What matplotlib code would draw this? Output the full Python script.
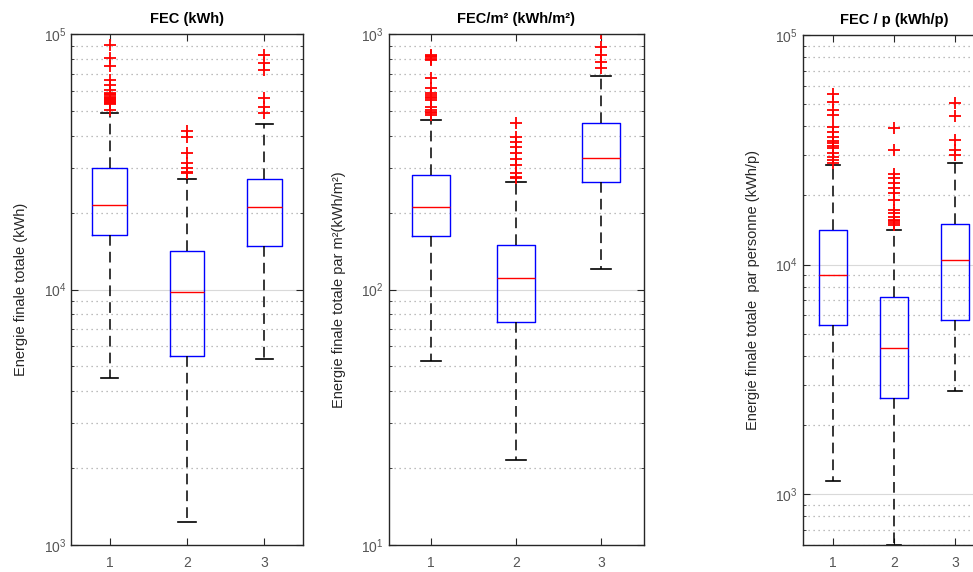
import numpy as np
import matplotlib.pyplot as plt
from matplotlib.ticker import LogLocator, NullFormatter

plt.rcParams['font.family'] = ['Liberation Sans', 'DejaVu Sans']

groups = [1, 2, 3]

titles = ["FEC (kWh)", "FEC/m² (kWh/m²)", "FEC / p (kWh/p)"]
ylabels = ["Energie finale totale (kWh)",
           "Energie finale totale par m²(kWh/m²)",
           "Energie finale totale  par personne (kWh/p)"]
ylims = [(1e3, 1e5), (1e1, 1e3), (600, 1e5)]

# FEC (kWh)
fec_q1 = [16300, 5490, 14800]
fec_med = [21400, 9800, 21000]
fec_q3 = [30000, 14200, 27000]
fec_lo = [4490, 1227, 5330]
fec_hi = [49200, 27000, 44400]
fec_out = [
    [90600, 80300, 75100, 66100, 63200, 60400, 59000, 58000, 57500, 56500,
     56000, 55500, 55000, 54500, 54000, 53500, 53000, 50400],
    [41700, 39500, 34100, 31200, 29900, 28900, 28500],
    [82800, 76800, 72300, 56000, 52000, 49000],
]

# FEC/m2 (kWh/m2)
m2_q1 = [162, 74.4, 264]
m2_med = [210, 111, 326]
m2_q3 = [281, 150, 447]
m2_lo = [52.6, 21.5, 120]
m2_hi = [461, 264, 687]
m2_out = [
    [830, 820, 810, 800, 790, 671, 612, 586, 575, 565, 560, 550, 520,
     505, 495, 490, 480],
    [447, 396, 379, 362, 341, 324, 307, 285, 275, 272],
    [1010, 891, 828, 780, 735],
]

# FEC / p (kWh/p)
p_q1 = [5450, 2610, 5730]
p_med = [8970, 4340, 10500]
p_q3 = [14100, 7190, 15000]
p_lo = [1143, 600, 2820]
p_hi = [27100, 14100, 27600]
p_out = [
    [55200, 51200, 47100, 44800, 39800, 37900, 36100, 34500, 33700, 32900,
     32100, 30600, 29500, 28500, 27600],
    [39200, 31600, 24900, 23800, 22600, 21500, 20400, 19200, 17300, 16700,
     16100, 15700, 15400, 15100, 14900],
    [50700, 44500, 34800, 31600, 30000],
]

panels = [
    (fec_q1, fec_med, fec_q3, fec_lo, fec_hi, fec_out),
    (m2_q1, m2_med, m2_q3, m2_lo, m2_hi, m2_out),
    (p_q1, p_med, p_q3, p_lo, p_hi, p_out),
]

# axes rectangles in pixels: left, right, top, bottom
W, H = 973, 572
rects = [(71, 303, 34, 545), (388.5, 643.5, 34, 545), (802.5, 985.5, 35, 545)]

fig = plt.figure(figsize=(W / 100, H / 100), dpi=100)

for i, (q1, med, q3, lo, hi, out) in enumerate(panels):
    l, r, t, b = rects[i]
    ax = fig.add_axes([l / W, (H - b) / H, (r - l) / W, (b - t) / H])
    stats = []
    for k in range(3):
        stats.append(dict(q1=q1[k], med=med[k], q3=q3[k],
                          whislo=lo[k], whishi=hi[k], fliers=out[k]))
    ax.bxp(stats, positions=groups, widths=0.45, capwidths=0.225,
           showfliers=True,
           boxprops=dict(color='blue', linewidth=1.0),
           medianprops=dict(color='red', linewidth=1.0),
           whiskerprops=dict(color='black', linewidth=1.1, linestyle=(0, (7, 4))),
           capprops=dict(color='black', linewidth=1.2),
           flierprops=dict(marker='+', markeredgecolor='red', markersize=9,
                           markeredgewidth=1.3, linestyle='none'))
    ax.set_yscale('log')
    ax.set_ylim(*ylims[i])
    ax.set_xlim(0.5, 3.5)
    ax.set_xticks(groups)
    ax.set_xticklabels([str(g) for g in groups])
    ax.yaxis.set_minor_locator(LogLocator(base=10, subs=np.arange(2, 10)))
    ax.yaxis.set_minor_formatter(NullFormatter())
    ax.grid(True, axis='y', which='major', color='#d9d9d9', linewidth=0.8,
            linestyle='-')
    ax.grid(True, axis='y', which='minor', color='#a8a8a8', linewidth=0.9,
            linestyle=(0, (1, 3)))
    ax.set_axisbelow(True)
    ax.tick_params(which='both', direction='in', top=True, right=True,
                   labelsize=10, labelcolor='#555555', color='#262626')
    ax.tick_params(axis='x', which='major', pad=8)
    ax.tick_params(which='major', length=5)
    ax.tick_params(which='minor', length=2.5)
    for s in ax.spines.values():
        s.set_linewidth(1.0)
        s.set_color('#262626')
    ax.set_title(titles[i], fontsize=10.5, fontweight='bold', pad=8)
    ax.set_ylabel(ylabels[i], fontsize=10.5, color='#262626', labelpad=11)

fig.savefig('out.png', dpi=100)
